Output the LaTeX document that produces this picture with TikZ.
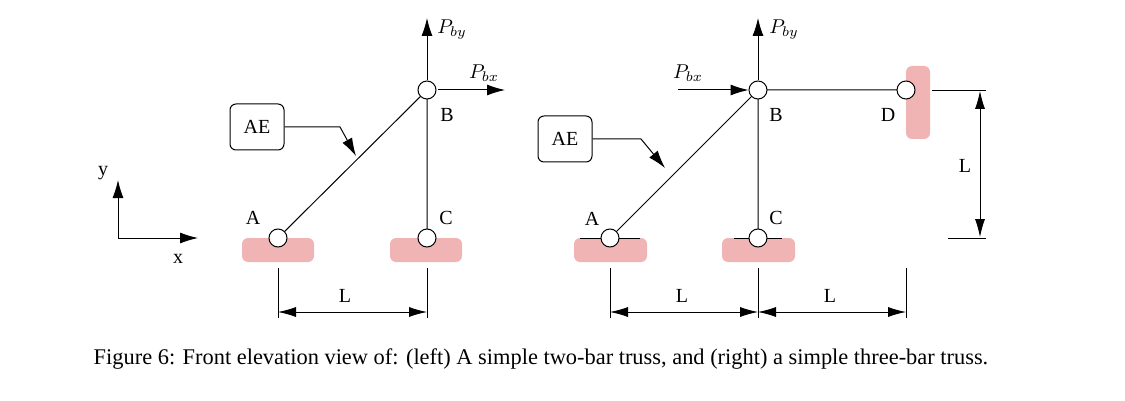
\documentclass[tikz,border=0pt]{standalone}
\usepackage{fontspec}
\setmainfont{Liberation Serif}
\usetikzlibrary{arrows.meta}
\begin{document}
\begin{tikzpicture}[x=0.5pt,y=-0.5pt,
  pin/.style={circle,draw,fill=white,minimum size=9pt,inner sep=0pt,line width=0.5pt},
  sup/.style={fill={rgb,255:red,240;green,180;blue,180},rounded corners=3pt},
  bar/.style={line width=0.5pt},
  arr/.style={-{Latex[length=9pt,width=5.5pt]},line width=0.5pt},
  darr/.style={{Latex[length=9pt,width=5pt]}-{Latex[length=9pt,width=5pt]},line width=0.4pt},
  thin/.style={line width=0.4pt},
  box/.style={draw,rounded corners=3pt,minimum width=27pt,minimum height=23pt,line width=0.5pt},
  lab/.style={font=\normalsize,inner sep=0pt}]
\useasboundingbox (0,0) rectangle (1125,401);
% axes
\coordinate (O) at (118,238);
\coordinate (Y) at (118,180);
\coordinate (X) at (198,238);
\draw[arr] (O) -- (Y);
\draw[arr] (O) -- (X);
\node[lab] at (103,173) {y};
\node[lab] at (178,259) {x};
% left truss
\fill[sup] (242,238) rectangle (314,262);
\fill[sup] (390,238) rectangle (462,262);
\coordinate (A1) at (278,238);
\coordinate (B1) at (427,90);
\coordinate (C1) at (427,238);
\draw[bar] (A1) -- (B1) -- (C1);
\node[pin] (a1) at (A1) {};
\node[pin] (b1) at (B1) {};
\node[pin] (c1) at (C1) {};
\node[lab] at (253,218) {A};
\node[lab] at (447,115) {B};
\node[lab] at (446,218) {C};
\coordinate (P1y) at (427,18);
\draw[arr] (b1) -- (P1y);
\node[lab] at (452,30) {$P_{by}$};
\coordinate (P1x0) at (438,90);
\coordinate (P1x) at (505,90);
\draw[arr] (P1x0) -- (P1x);
\node[lab] at (484,73) {$P_{bx}$};
\node[box] (ae1) at (257,127) {AE};
\coordinate (k1) at (340,127);
\coordinate (t1) at (356,156);
\draw[arr] (ae1.east) -- (k1) -- (t1);
% left dims
\coordinate (d1a) at (278,268); \coordinate (d1b) at (278,318);
\coordinate (d2a) at (427,268); \coordinate (d2b) at (427,318);
\draw[thin] (d1a) -- (d1b) (d2a) -- (d2b);
\coordinate (e1) at (278,312); \coordinate (e2) at (427,312);
\draw[darr] (e1) -- (e2);
\node[lab] at (345,296) {L};
% right truss
\fill[sup] (574,238) rectangle (647,262);
\fill[sup] (722,238) rectangle (795,262);
\fill[sup] (906,66) rectangle (930,139);
\coordinate (A2) at (610,238);
\coordinate (B2) at (758,90);
\coordinate (C2) at (758,238);
\coordinate (D2) at (906,90);
\coordinate (g1) at (580,238); \coordinate (g2) at (640,238);
\coordinate (g3) at (734,238); \coordinate (g4) at (782,238);
\draw[thin] (g1) -- (g2) (g3) -- (g4);
\draw[bar] (A2) -- (B2) -- (C2) (B2) -- (D2);
\node[pin] (a2) at (A2) {};
\node[pin] (b2) at (B2) {};
\node[pin] (c2) at (C2) {};
\node[pin] (dd) at (D2) {};
\node[lab] at (592,219) {A};
\node[lab] at (776,115) {B};
\node[lab] at (776,218) {C};
\node[lab] at (888,115) {D};
\coordinate (P2y) at (758,18);
\draw[arr] (b2) -- (P2y);
\node[lab] at (784,30) {$P_{by}$};
\coordinate (P2x0) at (678,90);
\draw[arr] (P2x0) -- (b2);
\node[lab] at (688,73) {$P_{bx}$};
\node[box] (ae2) at (565,139) {AE};
\coordinate (k2) at (641,139);
\coordinate (t2) at (665,168);
\draw[arr] (ae2.east) -- (k2) -- (t2);
% right dims
\coordinate (h1) at (932,90); \coordinate (h2) at (986,90);
\coordinate (h3) at (948,238); \coordinate (h4) at (986,238);
\draw[thin] (h1) -- (h2) (h3) -- (h4);
\coordinate (v1) at (980,91); \coordinate (v2) at (980,237);
\draw[darr] (v1) -- (v2);
\node[lab] at (965,166) {L};
\coordinate (f1a) at (610,268); \coordinate (f1b) at (610,318);
\coordinate (f2a) at (758,268); \coordinate (f2b) at (758,318);
\coordinate (f3a) at (906,268); \coordinate (f3b) at (906,318);
\draw[thin] (f1a) -- (f1b) (f2a) -- (f2b) (f3a) -- (f3b);
\coordinate (m1) at (610,312); \coordinate (m2) at (758,312); \coordinate (m3) at (906,312);
\draw[darr] (m1) -- (m2);
\draw[darr] (m2) -- (m3);
\node[lab] at (682,296) {L};
\node[lab] at (830,296) {L};
% caption
\node[inner sep=0pt,font=\fontsize{11.2}{13}\selectfont] (cap) at (541,359) {Figure 6: Front elevation view of: (left) A simple two-bar truss, and (right) a simple three-bar truss.};
\end{tikzpicture}
\end{document}
